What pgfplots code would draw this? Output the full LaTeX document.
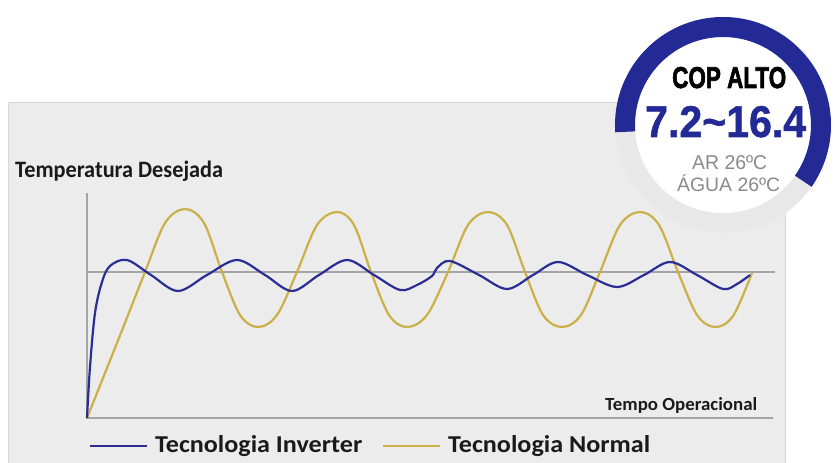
\documentclass[border=0pt]{standalone}
\usepackage{pgfplots}
\pgfplotsset{compat=1.18}
\usepackage{fontspec}
\setmainfont{Carlito}
\newfontfamily\badgefont{Liberation Sans}
\newfontfamily\badgeheavy{Liberation Sans Bold}[FakeBold=2.5]
\newfontfamily\badgebold{Liberation Sans Bold}[FakeBold=1.2]
\usepackage{graphicx}

\definecolor{panel}{HTML}{ECECEC}
\definecolor{panelline}{HTML}{D6D6D6}
\definecolor{track}{HTML}{E8E8E8}
\definecolor{axisgray}{HTML}{A4A4A4}
\definecolor{invblue}{RGB}{43,45,150}
\definecolor{normgold}{RGB}{201,177,72}
\definecolor{badgeblue}{RGB}{35,42,150}
\definecolor{txtgray}{HTML}{8A8A8A}
\definecolor{txt}{HTML}{1A1A1A}

\begin{document}
\begin{tikzpicture}
\begin{scope}[x=1bp,y=1bp]
  \path[use as bounding box] (0,0) rectangle (835,463);
  \fill[white] (0,0) rectangle (835,463);
  \filldraw[fill=panel,draw=panelline,line width=1bp] (8,-2) rectangle (785,360);
\end{scope}

\begin{axis}[
    at={(87bp,45bp)}, anchor=south west,
    scale only axis, width=688bp, height=225bp,
    xmin=0, xmax=688, ymin=0, ymax=225,
    hide axis, clip=false,
]
% eixos e temperatura desejada
\addplot[axisgray, line width=1.3bp] coordinates {(0,225) (0,0) (686,0)};
\addplot[axisgray, line width=1.3bp] coordinates {(0,146) (688,146)};

% Tecnologia Normal
\addplot[normgold, line width=2.2bp, smooth, tension=0.55] coordinates {
(0,0) (30,75) (58,146) (78,195) (98,209) (117,195) (135,146) (153,103)
(171,91) (190,103) (210,146) (230,193) (250,206) (267,193) (284,146)
(302,103) (320,91) (340,103) (361,146) (381,193) (401,206) (420,193)
(438,146) (456,103) (475,91) (494,103) (513,146) (533,193) (553,206)
(572,193) (591,146) (610,103) (628,91) (646,102) (665,145)
};

% Tecnologia Inverter
\addplot[invblue, line width=2.2bp, smooth, tension=0.55] coordinates {
(0,0) (3,51) (8,105) (15,136) (23,152) (40,158) (64,143) (91,127)
(120,143) (150,158) (178,143) (205,127) (232,143) (260,158) (287,143)
(313,128) (330,133) (345,142) (350,150) (363,157) (392,143) (420,129)
(446,143) (471,156) (500,143) (530,131) (557,143) (583,156) (610,143)
(636,129) (650,134) (663,143)
};
\end{axis}

\begin{scope}[x=1bp,y=1bp]
  % textos do grafico
  \node[anchor=base west, inner sep=0, text=txt] at (15,285)
    {\resizebox{208bp}{16.5bp}{\textbf{Temperatura Desejada}}};
  \node[anchor=base west, inner sep=0, text=txt] at (605,52)
    {\resizebox{152bp}{13bp}{\textbf{Tempo Operacional}}};

  % legenda
  \draw[invblue, line width=1.6bp] (90,17) -- (147,17);
  \node[anchor=base west, inner sep=0, text=txt] at (155,10)
    {\resizebox{207bp}{17bp}{\textbf{Tecnologia Inverter}}};
  \draw[normgold, line width=1.6bp] (383,17) -- (440,17);
  \node[anchor=base west, inner sep=0, text=txt] at (448,10)
    {\resizebox{202bp}{17bp}{\textbf{Tecnologia Normal}}};

  % selo COP
  \fill[track] (723,338) circle (108);
  \fill[white] (723,338) circle (88);
  \draw[badgeblue, line width=20bp] (723,338) ++(184:98) arc[start angle=184, end angle=-35, radius=98];
  \node[anchor=base west, inner sep=0, text=black] at (672,375)
    {\resizebox{114bp}{21bp}{\badgeheavy COP ALTO}};
  \node[anchor=base west, inner sep=0, text=badgeblue] at (645,326)
    {\resizebox{161bp}{31bp}{\badgebold 7.2\textasciitilde 16.4}};
  \node[anchor=base west, inner sep=0, text=txtgray] at (692,293)
    {\resizebox{75bp}{14bp}{\badgefont AR 26ºC}};
  \node[anchor=base west, inner sep=0, text=txtgray] at (677,271)
    {\resizebox{103bp}{!}{\badgefont ÁGUA 26ºC}};
\end{scope}
\end{tikzpicture}
\end{document}
